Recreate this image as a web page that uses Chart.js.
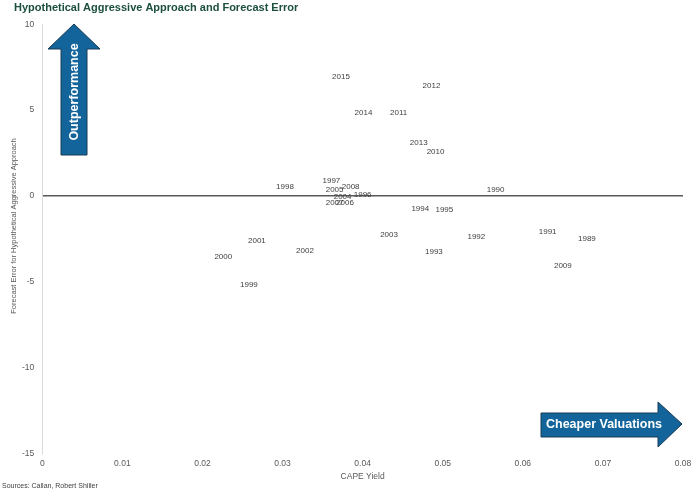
<!DOCTYPE html>
<html>
<head>
<meta charset="utf-8">
<script src="https://cdn.jsdelivr.net/npm/chart.js@4"></script>
<style>
  body { margin: 0; background: #fff; }
  #wrap { width: 700px; height: 490px; }
</style>
</head>
<body>
<div id="wrap"><canvas id="chart"></canvas></div>
<script>
let years = ["2015", "2012", "2014", "2011", "2013", "2010", "1998", "1997", "2005", "2008",
  "2004", "1996", "2007", "2006", "1990", "1994", "1995", "2003", "1992", "1991",
  "1989", "1993", "2001", "2002", "2000", "2009", "1999"];
let cape_yield = [0.0373, 0.0486, 0.0401, 0.0445, 0.0470, 0.0491, 0.0303, 0.0361, 0.0365, 0.0385,
  0.0375, 0.0400, 0.0365, 0.0378, 0.0566, 0.0472, 0.0502, 0.0433, 0.0542, 0.0631,
  0.0680, 0.0489, 0.0268, 0.0328, 0.0226, 0.0650, 0.0258];
let forecast_error = [6.96, 6.42, 4.86, 4.86, 3.11, 2.58, 0.54, 0.88, 0.33, 0.54,
  -0.06, 0.04, -0.39, -0.39, 0.35, -0.74, -0.80, -2.28, -2.39, -2.08,
  -2.49, -3.27, -2.63, -3.21, -3.56, -4.08, -5.15];
let x_ticks = [0, 0.01, 0.02, 0.03, 0.04, 0.05, 0.06, 0.07, 0.08];
let y_ticks = [-15, -10, -5, 0, 5, 10];

let points = cape_yield.map((v, i) => ({ x: v, y: forecast_error[i] }));
let FONT = "'Liberation Sans', Arial, sans-serif";

// year labels sit where the (hidden) points are
let yearLabels = {
  id: "yearLabels",
  afterDatasetsDraw(chart) {
    let ctx = chart.ctx;
    let meta = chart.getDatasetMeta(0);
    ctx.save();
    ctx.font = "8px " + FONT;
    ctx.fillStyle = "#404040";
    ctx.textAlign = "center";
    ctx.textBaseline = "middle";
    meta.data.forEach((pt, i) => ctx.fillText(years[i], pt.x, pt.y));
    ctx.restore();
  }
};

function arrowPath(ctx, pts) {
  ctx.beginPath();
  ctx.moveTo(pts[0][0], pts[0][1]);
  pts.slice(1).forEach(p => ctx.lineTo(p[0], p[1]));
  ctx.closePath();
  ctx.fillStyle = "#12649b";
  ctx.fill();
  ctx.lineWidth = 1;
  ctx.strokeStyle = "#1b3a55";
  ctx.stroke();
}

// arrows, y axis title and sources note
let extras = {
  id: "extras",
  afterDraw(chart) {
    let ctx = chart.ctx;
    ctx.save();
    arrowPath(ctx, [[74, 24], [100, 49], [87, 49], [87, 155], [61, 155], [61, 49], [48, 49]]);
    arrowPath(ctx, [[541, 413], [658, 413], [658, 402], [682, 424], [658, 447], [658, 437], [541, 437]]);

    ctx.fillStyle = "#fff";
    ctx.font = "bold 12.5px " + FONT;
    ctx.textAlign = "center";
    ctx.textBaseline = "middle";
    ctx.fillText("Cheaper Valuations", 604, 425);

    ctx.save();
    ctx.translate(75, 92);
    ctx.rotate(-Math.PI / 2);
    ctx.fillText("Outperformance", 0, 0);
    ctx.restore();

    ctx.save();
    ctx.fillStyle = "#595959";
    ctx.font = "7.5px " + FONT;
    ctx.translate(14, 226);
    ctx.rotate(-Math.PI / 2);
    ctx.fillText("Forecast Error for Hypothetical Aggressive Approach", 0, 0);
    ctx.restore();

    ctx.fillStyle = "#404040";
    ctx.font = "7px " + FONT;
    ctx.textAlign = "left";
    ctx.fillText("Sources: Callan, Robert Shiller", 2, 486);
    ctx.restore();
  }
};

new Chart(document.getElementById("chart").getContext("2d"), {
  type: "scatter",
  data: {
    datasets: [
      {
        label: "Forecast Error",
        data: points,
        pointRadius: 0,
        pointHoverRadius: 0,
      },
    ],
  },
  options: {
    responsive: true,
    maintainAspectRatio: false,
    animation: false,
    layout: { padding: { left: 14, right: 17, top: 0, bottom: 8 } },
    plugins: {
      legend: { display: false },
      tooltip: { enabled: false },
      title: {
        display: true,
        text: "Hypothetical Aggressive Approach and Forecast Error",
        align: "start",
        color: "#1c4f3c",
        font: { family: FONT, size: 11, weight: "bold" },
        padding: { top: 1, bottom: 10 },
      },
    },
    scales: {
      x: {
        type: "linear",
        min: 0,
        max: 0.08,
        afterBuildTicks: (s) => { s.ticks = x_ticks.map(v => ({ value: v })); },
        ticks: {
          color: "#595959",
          font: { family: FONT, size: 8.5 },
          padding: -3,
          callback: (v) => String(Math.round(v * 100) / 100),
        },
        grid: { display: false },
        border: { display: false },
        title: {
          display: true,
          text: "CAPE Yield",
          color: "#595959",
          font: { family: FONT, size: 8.5 },
          padding: { top: 6, bottom: 0 },
        },
      },
      y: {
        min: -15,
        max: 10,
        afterBuildTicks: (s) => { s.ticks = y_ticks.map(v => ({ value: v })); },
        ticks: {
          color: "#595959",
          font: { family: FONT, size: 8.5 },
          padding: 8,
        },
        grid: {
          drawTicks: false,
          color: (c) => (c.tick && c.tick.value === 0 ? "#595959" : "rgba(0,0,0,0)"),
          lineWidth: 1.5,
        },
        border: { display: true, color: "#d9d9d9", width: 1 },
      },
    },
  },
  plugins: [yearLabels, extras],
});
</script>
</body>
</html>
